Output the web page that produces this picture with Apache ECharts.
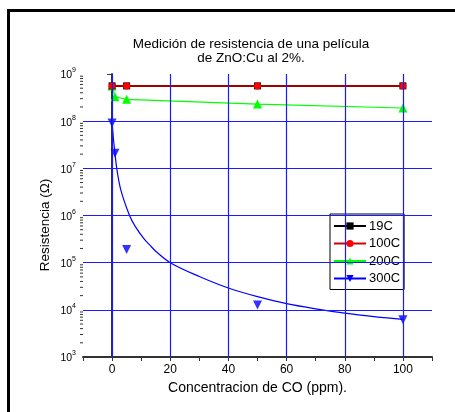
<!DOCTYPE html>
<html>
<head>
<meta charset="utf-8">
<script src="https://cdn.jsdelivr.net/npm/echarts@6/dist/echarts.min.js"></script>
<style>
html, body { margin: 0; padding: 0; background: #fff; }
#main { width: 455px; height: 412px; }
</style>
</head>
<body>
<div id="main"></div>
<script>
var xTicks = [0, 20, 40, 60, 80, 100];
var yDecades = [1e3, 1e4, 1e5, 1e6, 1e7, 1e8, 1e9];
var yGrid = [1e4, 1e5, 1e6, 1e7, 1e8];

var x19 = [0, 5, 50, 100];
var y19 = [5.6e8, 5.6e8, 5.6e8, 5.6e8];
var x100 = [0, 5, 50, 100];
var y100 = [5.6e8, 5.6e8, 5.6e8, 5.6e8];
var x200 = [0, 1, 5, 50, 100];
var y200 = [5.6e8, 3.3e8, 2.9e8, 2.3e8, 1.9e8];
var x300 = [0, 1, 5, 50, 100];
var y300 = [9.1e7, 2.1e7, 1.9e5, 1.26e4, 6.2e3];
// curva de ajuste (300C)
var xFit = [0, 0.5, 1, 1.6, 3, 6, 8, 11, 13, 15, 20, 30, 40, 50, 60, 70, 80, 90, 100];
var yFit = [9.1e7, 4.0e7, 2.1e7, 1.0e7, 3.5e6, 1.0e6, 5.8e5, 3.2e5, 2.35e5, 1.75e5, 1.0e5, 5.1e4, 2.9e4, 1.9e4, 1.35e4, 1.05e4, 8.5e3, 7.2e3, 6.3e3];

function pairs(xs, ys) {
  return xs.map(function (x, i) { return [x, ys[i]]; });
}

var font = 'Liberation Sans, Arial, sans-serif';
var chart = echarts.init(document.getElementById('main'));

chart.setOption({
  animation: false,
  textStyle: { fontFamily: font },
  title: {
    text: 'Medición de resistencia de una película\nde ZnO:Cu al 2%.',
    left: 246,
    top: 32,
    textAlign: 'center',
    textStyle: { fontSize: 13.5, fontWeight: 'normal', color: '#000', lineHeight: 14, fontFamily: font }
  },
  graphic: [
    {
      type: 'rect',
      shape: { x: 8.5, y: 10.5, width: 600, height: 600 },
      style: { fill: 'none', stroke: '#000', lineWidth: 3 },
      silent: true
    },
    {
      type: 'text',
      x: 45, y: 225,
      rotation: Math.PI / 2,
      style: { text: 'Resistencia (Ω)', fontSize: 13.5, fill: '#000', fontFamily: font, align: 'center', verticalAlign: 'middle' }
    }
  ],
  legend: {
    orient: 'vertical',
    left: 330,
    top: 214,
    data: ['19C', '100C', '200C', '300C'],
    backgroundColor: '#fff',
    borderColor: '#000',
    borderWidth: 1,
    borderRadius: 0,
    padding: [5, 4, 4, 3],
    itemWidth: 32,
    itemHeight: 9,
    itemGap: 3.5,
    textStyle: { fontSize: 13, lineHeight: 14, color: '#000', fontFamily: font, padding: [0, 0, 0, -2] }
  },
  grid: { left: 83, top: 74, right: 23, bottom: 55, containLabel: false },
  xAxis: {
    type: 'value',
    min: -10,
    max: 110,
    interval: 10,
    name: 'Concentracion de CO (ppm).',
    nameLocation: 'middle',
    nameGap: 17,
    nameTextStyle: { fontSize: 14, color: '#000' },
    axisLine: { onZero: false, lineStyle: { color: '#333', width: 2 } },
    axisTick: { length: 4, lineStyle: { color: '#333' } },
    axisLabel: {
      fontSize: 12, color: '#000', margin: 7,
      formatter: function (v) { return xTicks.indexOf(v) >= 0 ? String(v) : ''; }
    },
    splitLine: { show: false }
  },
  yAxis: {
    type: 'log',
    logBase: 10,
    min: 1e3,
    max: 1e9,
    axisLine: { lineStyle: { color: '#333', width: 2 } },
    axisTick: { length: 5, lineStyle: { color: '#333' } },
    axisLabel: {
      margin: 7,
      color: '#000',
      formatter: function (v) {
        var e = Math.round(Math.log10(v));
        return '{b|10}{s|' + e + '}';
      },
      rich: {
        b: { fontSize: 10.5, color: '#000', lineHeight: 14, verticalAlign: 'bottom' },
        s: { fontSize: 7, color: '#000', lineHeight: 14, verticalAlign: 'top' }
      }
    },
    splitLine: { show: false }
  },
  series: [
    {
      name: 'grid',
      type: 'line',
      data: [],
      z: 1,
      markLine: {
        silent: true,
        symbol: 'none',
        label: { show: false },
        lineStyle: { color: '#1a1aff', width: 1.2, type: 'solid' },
        data: xTicks.map(function (v) { return { xAxis: v }; })
          .concat(yGrid.map(function (v) { return { yAxis: v }; }))
      }
    },
    {
      name: 'minorTicks',
      type: 'custom',
      z: 4,
      silent: true,
      clip: false,
      data: yDecades.slice(0, -1).map(function (d) { return [-10, d]; }),
      renderItem: function (params, api) {
        var d = api.value(1);
        var children = [];
        for (var k = 2; k <= 9; k++) {
          var p = api.coord([-10, k * d]);
          children.push({
            type: 'line',
            shape: { x1: p[0] - 3, y1: p[1], x2: p[0], y2: p[1] },
            style: { stroke: '#333', lineWidth: 1 }
          });
        }
        return { type: 'group', children: children };
      }
    },
    {
      name: '300C',
      type: 'line',
      z: 3,
      data: pairs(xFit, yFit),
      smooth: 0.35,
      showSymbol: false,
      symbol: 'triangle',
      symbolRotate: 180,
      symbolSize: 8,
      itemStyle: { color: '#0000ff' },
      lineStyle: { color: '#0000ff', width: 1.2 }
    },
    {
      name: '300C pts',
      type: 'scatter',
      z: 3,
      data: pairs(x300, y300),
      symbol: 'triangle',
      symbolRotate: 180,
      symbolSize: 9,
      itemStyle: { color: '#0000ff' }
    },
    {
      name: '200C',
      type: 'line',
      z: 3,
      data: pairs(x200, y200),
      symbol: 'triangle',
      symbolSize: 9,
      showAllSymbol: true,
      itemStyle: { color: '#00ff00' },
      lineStyle: { color: '#00ff00', width: 1.2 }
    },
    {
      name: '19C',
      type: 'line',
      z: 3,
      data: pairs(x19, y19),
      symbol: 'rect',
      symbolSize: 7,
      itemStyle: { color: '#000' },
      lineStyle: { color: '#000', width: 2 }
    },
    {
      name: '100C',
      type: 'line',
      z: 3,
      data: pairs(x100, y100),
      symbol: 'circle',
      symbolSize: 7,
      itemStyle: { color: '#ff0000' },
      lineStyle: { color: '#d40000', width: 1.5 }
    }
  ]
});
</script>
</body>
</html>
